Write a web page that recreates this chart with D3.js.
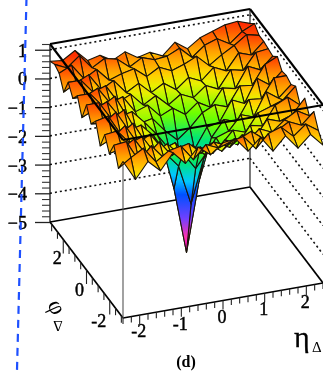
<!DOCTYPE html>
<html><head><meta charset="utf-8">
<script src="https://cdn.jsdelivr.net/npm/d3@7/dist/d3.min.js"></script>
<style>html,body{margin:0;padding:0;background:#fff;overflow:hidden}svg{display:block;filter:blur(0.4px)}text{font-family:"Liberation Serif",serif;fill:#000}</style>
</head><body><script>
const zRows = [
[.45,-.25,.3,-.1,.45,.0,.5,.15,.5,.55,.05,.45,-.1,.35,-.15,.25,-.2],
[.0,.3,.55,.0,.3,.4,-.15,.3,.1,.25,.35,-.15,.3,.45,.05,.4,.1],
[.6,.65,-.1,.35,-.15,.1,.2,-.2,.1,-.1,.05,.25,-.1,.1,.35,.15,.55],
[.1,.2,.45,-.2,.2,-.35,-.1,-.45,-.2,-.5,-.15,-.35,.05,-.15,.2,.45,.2],
[.55,.6,.1,.25,-.4,-.15,-.6,-.35,-.75,-.45,-.65,-.3,-.5,.1,-.05,.1,.6],
[-.05,.15,.5,-.2,.05,-.55,-.4,-.95,-.7,-1.0,-.6,-.85,-.25,-.35,.3,.5,.15],
[.6,.7,.0,.3,-.45,-.75,-.9,-1.05,-1.65,-1.1,-1.0,-.55,-.7,-.1,.05,.2,.6],
[.3,.25,.55,-.15,-.05,-.5,-1.2,-1.7,-3.1,-1.6,-.95,-.8,-.3,-.45,.35,.05,.45],
[.75,.75,.1,.35,-.5,-.85,-1.05,-2.7,-5,-2.6,-1.15,-.6,-.75,-.05,-.1,.55,.55],
[.1,.3,.5,-.1,.0,-.45,-.95,-1.55,-3.0,-1.7,-1.0,-.9,-.2,-.4,.4,.1,.5],
[.65,.65,.15,.4,-.4,-.7,-.6,-1.1,-1.5,-1.15,-.7,-.5,-.65,.0,-.05,.6,.8],
[.35,.35,.55,-.05,.1,-.5,-.35,-.8,-.6,-.9,-.55,-.8,-.2,-.3,.4,.2,.6],
[.7,.7,.2,.35,-.3,-.1,-.55,-.3,-.7,-.4,-.6,-.25,-.45,.15,.05,.6,.65],
[.15,.4,.6,.0,.25,-.25,.0,-.4,-.15,-.45,-.1,-.3,.1,-.1,.45,.3,.7],
[.6,.8,.25,.5,.05,.2,.3,-.05,.2,0,.15,.35,-.05,.25,.5,.8,.7],
[.7,.5,.85,.35,.6,.5,.15,.4,.25,.3,.5,.1,.45,.6,.35,.7,.9],
[.6,.55,.82,.4,.5,.25,.47,.2,.3,.1,.5,.2,.5,.65,.8,.85,.7]
];
const zTicks = [1,0,-1,-2,-3,-4,-5];
const etaTicks = [-2,-1,0,1,2];
const phiTicks = [2,0,-2];
const paletteZ = [-5,-4.4,-3.7,-2.8,-2.2,-1.4,-.8,-.25,0,.3,.6,.85,1.2];
const paletteC = ["#ff00c8","#ff30b0","#7040ff","#0050ff","#00c8ff","#00e676","#6eff00","#e8f000","#ffd000","#ffa000","#ff6000","#ff3000","#ff0000"];
const W=323,H=374;
const PI=Math.PI, etaMin=-2.4, etaMax=2.4;
const etaX=d3.scaleLinear().domain([etaMin,etaMax]).range([123,323]);
const etaY=d3.scaleLinear().domain([etaMin,etaMax]).range([0,-35]);
const phiX=d3.scaleLinear().domain([-PI,PI]).range([0,-73]);
const phiY=d3.scaleLinear().domain([-PI,PI]).range([318,222]);
const zPx=d3.scaleLinear().domain([-5,1.2]).range([222,44]);
const zUp=z=>zPx(z)-222;
const px=(e,p)=>etaX(e)+phiX(p);
const py=(e,p,z)=>phiY(p)+etaY(e)+zUp(z);
const color=d3.scaleLinear().domain(paletteZ).range(paletteC).clamp(true);
const svg=d3.select("body").append("svg").attr("width",W).attr("height",H);
const defs=svg.append("defs");
const line=(g,x1,y1,x2,y2,w,c,dash)=>g.append("line").attr("x1",x1).attr("y1",y1).attr("x2",x2).attr("y2",y2).attr("stroke",c||"#000").attr("stroke-width",w).attr("stroke-dasharray",dash||null);

const back=svg.append("g");
zTicks.filter(z=>z>-5).forEach(z=>{
  line(back,px(etaMin,PI),py(etaMin,PI,z),px(etaMax,PI),py(etaMax,PI,z),1.6,"#111","2 3");
  line(back,px(etaMax,PI),py(etaMax,PI,z),px(etaMax,-PI),py(etaMax,-PI,z),1.6,"#111","2 3");
});
const floorPts=[[etaMin,PI],[etaMin,-PI],[etaMax,-PI],[etaMax,PI],[etaMin,PI]];
floorPts.slice(1).forEach((q,i)=>{const a=floorPts[i];
  line(back,px(a[0],a[1]),py(a[0],a[1],-5),px(q[0],q[1]),py(q[0],q[1],-5),1.7,"#000");});
line(back,px(etaMin,-PI),py(etaMin,-PI,1.2),px(etaMin,-PI),py(etaMin,-PI,-5),1.1,"#555");
line(back,px(etaMax,PI),py(etaMax,PI,1.2),px(etaMax,PI),py(etaMax,PI,-5),1.2,"#222");
line(back,px(etaMin,PI),py(etaMin,PI,1.2),px(etaMin,PI),py(etaMin,PI,-5),1.2,"#000");

const nR=zRows.length,nC=zRows[0].length;
const etaAt=d3.scaleLinear().domain([0,nC-1]).range([etaMin,etaMax]);
const phiAt=d3.scaleLinear().domain([0,nR-1]).range([-PI,PI]);
const surf=svg.append("g");
const pathGen=d3.line();
let gid=0;
for(let r=nR-2;r>=0;r--)for(let c=nC-2;c>=0;c--){
  const v=[[r,c],[r,c+1],[r+1,c+1],[r+1,c]].map(([i,j])=>{
    const e=etaAt(j),p=phiAt(i),z=zRows[i][j];return {x:px(e,p),y:py(e,p,z),z};});
  const lo=v.reduce((a,b)=>b.z<a.z?b:a),hi=v.reduce((a,b)=>b.z>a.z?b:a);
  const id="g"+(gid++);
  const g=defs.append("linearGradient").attr("id",id).attr("gradientUnits","userSpaceOnUse")
    .attr("x1",0).attr("x2",0).attr("y1",lo.y).attr("y2",hi.y===lo.y?lo.y+1:hi.y);
  const zs=[lo.z,...paletteZ.filter(z=>z>lo.z&&z<hi.z),hi.z];
  zs.forEach(z=>g.append("stop").attr("offset",hi.z===lo.z?0:(z-lo.z)/(hi.z-lo.z)).attr("stop-color",color(z)));
  surf.append("path").attr("d",pathGen(v.map(d=>[d.x,d.y]))+"Z").attr("fill",`url(#${id})`)
    .attr("stroke","#1a1408").attr("stroke-width",1.1).attr("stroke-linejoin","round");
}

const front=svg.append("g");
const topPts=[[etaMin,PI],[etaMin,-PI],[etaMax,-PI],[etaMax,PI],[etaMin,PI]];
topPts.slice(1).forEach((q,i)=>{const a=topPts[i];
  line(front,px(a[0],a[1]),py(a[0],a[1],1.2),px(q[0],q[1]),py(q[0],q[1],1.2),2.1,"#000");});

const zMinor=d3.range(-5,1.21,.2).filter(z=>Math.abs(z-Math.round(z))>.01);
const ax=svg.append("g").attr("transform","translate(50,0)");
ax.call(d3.axisLeft(zPx).tickValues(zMinor).tickSize(8).tickFormat(""));
ax.selectAll("path.domain").remove();
ax.selectAll("line").attr("stroke","#333").attr("stroke-width",1.1);
const ax2=svg.append("g").attr("transform","translate(50,0)");
ax2.call(d3.axisLeft(zPx).tickValues(zTicks).tickSize(15).tickPadding(8).tickFormat(d3.format("d")));
ax2.selectAll("path.domain").remove();
ax2.selectAll("line").attr("stroke","#222").attr("stroke-width",1.3);
ax2.selectAll("text").attr("font-size",18).attr("dy","0.36em").style("font-family",'"Liberation Serif",serif').attr("stroke","#000").attr("stroke-width",.45);

const tg=svg.append("g");
d3.range(-2.4,2.41,.2).forEach(e=>{
  const major=Math.abs(e-Math.round(e))<.01;
  const x=px(e,-PI),y=py(e,-PI,-5);
  line(tg,x,y,x,y+(major?9:6),1.1,"#222");
});
etaTicks.forEach(e=>{
  tg.append("text").attr("x",px(e,-PI)-1).attr("y",py(e,-PI,-5)+22).attr("text-anchor","middle")
    .attr("font-size",18).attr("stroke","#000").attr("stroke-width",.45).text(e);
});
d3.range(-3,3.01,.5).forEach(p=>{
  const major=Math.abs(p)%2<.01;
  const x=px(etaMin,p),y=py(etaMin,p,-5);
  line(tg,x,y,x,y+(major?14:7),1.1,"#222");
});
phiTicks.forEach((p,i)=>{
  tg.append("text").attr("x",px(etaMin,p)+[-6,-7,-11][i]).attr("y",py(etaMin,p,-5)+[25,26,26][i]).attr("text-anchor","middle")
    .attr("font-size",18).attr("stroke","#000").attr("stroke-width",.45).text(p);
});
svg.append("text").attr("x",294).attr("y",347).attr("font-size",30).attr("stroke","#000").attr("stroke-width",.3).text("η");
svg.append("text").attr("x",312).attr("y",352).attr("font-size",15).text("Δ");
svg.append("text").attr("transform","translate(57,307) rotate(65)").attr("text-anchor","middle").attr("dy","0.33em").attr("font-size",24).text("φ");
svg.append("text").attr("transform","translate(58,326) rotate(180)").attr("text-anchor","middle").attr("dy","0.36em").attr("font-size",15).text("Δ");
svg.append("text").attr("x",186).attr("y",367).attr("text-anchor","middle").attr("font-size",16).attr("font-weight","bold").text("(d)");
line(svg,26.5,-2,17,370,2.2,"#1e50ff","8 6");
</script></body></html>
